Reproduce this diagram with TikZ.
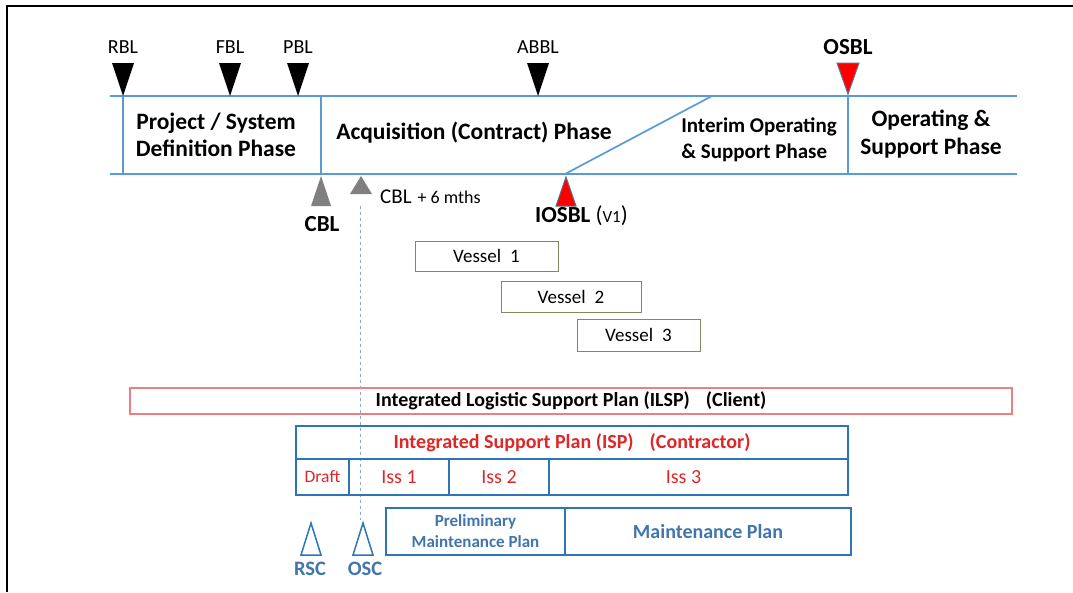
\documentclass[tikz,border=0pt]{standalone}
\usepackage{fontspec}
\setmainfont{Carlito}
\definecolor{tlblue}{RGB}{91,155,213}
\definecolor{boxblue}{RGB}{46,117,182}
\definecolor{plantext}{RGB}{64,118,173}
\definecolor{ispred}{RGB}{222,40,40}
\definecolor{ilsppink}{RGB}{236,128,128}
\definecolor{vesselc}{RGB}{125,140,95}
\definecolor{mkgray}{RGB}{128,128,128}
\definecolor{mkedge}{RGB}{95,110,140}
\definecolor{dashc}{RGB}{140,170,205}
\newcommand{\fs}[1]{\fontsize{#1}{#1}\selectfont}
\begin{document}
\begin{tikzpicture}[x=1pt,y=-1pt,
  tline/.style={draw=tlblue, line width=1.7pt},
  lbl/.style={inner sep=0pt, font=\fs{20}},
  blbl/.style={inner sep=0pt, font=\bfseries\fs{23}},
  phase/.style={inner sep=0pt, font=\bfseries\fs{23.5}, align=center},
  vesselbox/.style={draw=vesselc, line width=0.8pt, inner sep=0pt, font=\fs{19}},
  ispcell/.style={draw=boxblue, line width=1.1pt, inner sep=0pt, text=ispred, font=\fs{20}},
  plancell/.style={draw=boxblue, line width=1.1pt, inner sep=0pt, text=plantext, font=\bfseries\fs{20}, align=center},
  downmark/.style={fill=black},
  upmark/.style={fill=mkgray},
  redmark/.style={fill=red, draw=mkedge, line width=1pt},
  openmark/.style={draw=boxblue, line width=1.5pt},
  sclbl/.style={inner sep=0pt, text=plantext, font=\bfseries\fs{20.5}}
]
\useasboundingbox (0,0) rectangle (1073,592);
\fill[white] (0,0) rectangle (1073,592);
% page frame
\draw[line width=1.6pt] (1073,6) -- (7,6) -- (7,592);

% timeline band
\draw[tline] (110,96) -- (1017,96);
\draw[tline] (110,174) -- (1017,174);
\draw[tline] (123,96) -- (123,174);
\draw[tline] (321,96) -- (321,174);
\draw[tline] (848,96) -- (848,174);
\draw[tline] (565,174) -- (712,96);

% phase names
\node[phase] (pdef) at (216,135) {Project / System\\[3pt]Definition Phase};
\node[phase] (pacq) at (474,133) {Acquisition (Contract) Phase};
\node[phase, align=left, font=\bfseries\fs{21}] (pint) at (759,140) {Interim Operating\\[5pt]\& Support Phase};
\node[phase] (pops) at (931,134) {Operating \&\\[4pt]Support Phase};

% baseline markers above the band
\fill[downmark] (112,63) -- (134,63) -- (123,96) -- cycle;
\fill[downmark] (219,63) -- (241,63) -- (230,96) -- cycle;
\fill[downmark] (287,63) -- (309,63) -- (298,96) -- cycle;
\fill[downmark] (527,63) -- (549,63) -- (538,96) -- cycle;
\filldraw[redmark] (837,63) -- (859,63) -- (848,94) -- cycle;
\node[lbl] (rbl) at (123,47) {RBL};
\node[lbl] (fbl) at (230,47) {FBL};
\node[lbl] (pbl) at (298,47) {PBL};
\node[lbl] (abbl) at (538,47) {ABBL};
\node[blbl] (osbl) at (848,47) {OSBL};

% baseline markers below the band
\fill[upmark] (321,176) -- (331,206) -- (311,206) -- cycle;
\fill[upmark] (361,176) -- (372,194) -- (350,194) -- cycle;
\filldraw[redmark] (566,177) -- (576,206) -- (556,206) -- cycle;
\node[blbl] (cbl) at (322,224) {CBL};
\node[lbl, anchor=west, font=\fs{21}] (cbl6) at (380,197) {CBL\hspace{6pt}{\fs{18}+ 6 mths}};
\node[blbl, anchor=west] (iosbl) at (535,216) {IOSBL {\mdseries\fs{23}(}{\mdseries\fs{17}V1}{\mdseries\fs{23})}};

% six-month reference line
\draw[dashc, line width=0.8pt, dash pattern=on 3pt off 3pt] (360,206) -- (360,520);

% vessel deliveries
\node[vesselbox, minimum width=143, minimum height=30] (v1) at (486.5,256) {Vessel\hspace{9pt}1};
\node[vesselbox, minimum width=140, minimum height=31] (v2) at (571,296.5) {Vessel\hspace{9pt}2};
\node[vesselbox, minimum width=123, minimum height=32] (v3) at (638.5,335) {Vessel\hspace{9pt}3};

% client plan
\node[draw=ilsppink, line width=2pt, inner sep=0pt, minimum width=882, minimum height=26,
      font=\bfseries\fs{20}] (ilsp) at (571,401) {Integrated Logistic Support Plan (ILSP)\hspace{16pt}(Client)};

% contractor plan and its issues
\node[ispcell, minimum width=552, minimum height=33, font=\bfseries\fs{20}] (isp) at (572,442.5)
  {Integrated Support Plan (ISP)\hspace{16pt}(Contractor)};
\node[ispcell, minimum width=53, minimum height=36, font=\fs{17.5}] (draft) at (322.5,477) {Draft};
\node[ispcell, minimum width=100, minimum height=36] (iss1) at (399,477) {Iss 1};
\node[ispcell, minimum width=100, minimum height=36] (iss2) at (499,477) {Iss 2};
\node[ispcell, minimum width=299, minimum height=36] (iss3) at (698.5,477) {\hspace{-30pt}Iss 3};

% maintenance plans
\node[plancell, minimum width=179, minimum height=47, font=\bfseries\fs{17}] (pmp) at (475.5,531.5)
  {Preliminary\\[4pt]Maintenance Plan};
\node[plancell, minimum width=286, minimum height=47] (mp) at (708,531.5) {Maintenance Plan};

% support case reviews
\draw[openmark] (311,523) -- (321,555) -- (301,555) -- cycle;
\draw[openmark] (363,523) -- (373,555) -- (353,555) -- cycle;
\node[sclbl] (rsc) at (310,569) {RSC};
\node[sclbl] (osc) at (365,569) {OSC};
\end{tikzpicture}
\end{document}
